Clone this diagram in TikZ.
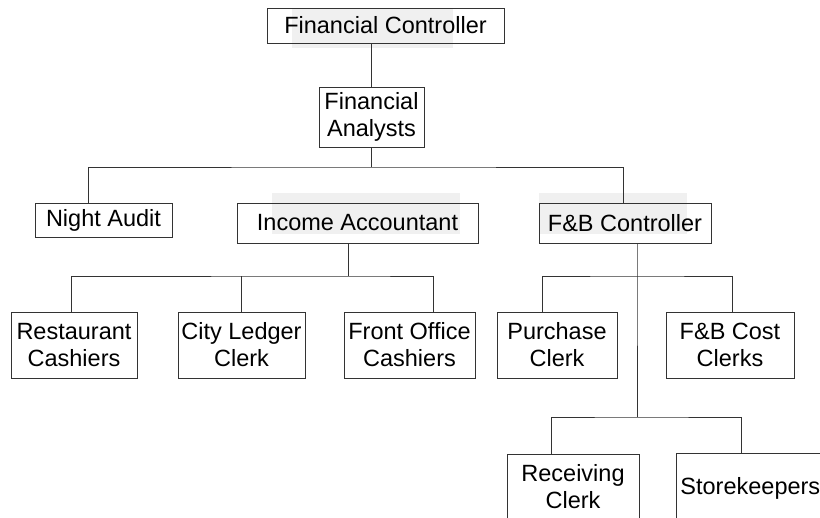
\documentclass[tikz,border=0pt]{standalone}
\usepackage{fontspec}
\setmainfont{Liberation Sans}
\usepackage{tikz}

\tikzset{
  post/.style={draw=black!80, line width=0.9pt, align=center, inner sep=0pt,
    font=\fontsize{23.5}{27}\selectfont},
  link/.style={draw=black!80, line width=0.9pt},
  mark box/.style={fill=black!6}
}

\begin{document}
\begin{tikzpicture}[x=1pt,y=-1pt]
\useasboundingbox (0,0) rectangle (820,518);
\clip (0,0) rectangle (820,518);

\fill[mark box] (292,8) rectangle (453,48);
\fill[mark box] (272,193) rectangle (460,234);
\fill[mark box] (539,193) rectangle (687,234);

\node[post, minimum width=237pt, minimum height=35pt] (fc) at (385.5,25.5) {Financial Controller};
\node[post, minimum width=105pt, minimum height=60pt] (fa) at (371.5,117) {Financial\\Analysts};
\node[post, minimum width=137pt, minimum height=34pt] (na) at (103.5,220) {Night Audit};
\node[post, minimum width=241pt, minimum height=40pt] (ia) at (357.5,223) {Income Accountant};
\node[post, minimum width=172pt, minimum height=40pt] (fb) at (625,223) {F\&B Controller};
\node[post, minimum width=126pt, minimum height=66pt] (rc) at (74,345) {Restaurant\\Cashiers};
\node[post, minimum width=127pt, minimum height=66pt] (cl) at (241.5,345) {City Ledger\\Clerk};
\node[post, minimum width=131pt, minimum height=66pt] (fo) at (409.5,345) {Front Office\\Cashiers};
\node[post, minimum width=120pt, minimum height=66pt] (pc) at (557,345) {Purchase\\Clerk};
\node[post, minimum width=128pt, minimum height=66pt] (cc) at (730,345) {F\&B Cost\\Clerks};
\node[post, minimum width=132pt, minimum height=65pt] (rv) at (573,486.5) {Receiving\\Clerk};
\node[post, anchor=north west, inner xsep=4pt, minimum height=70pt] (sk) at (676,453) {Storekeepers};

\coordinate (hub1) at (371.5,167);
\coordinate (hub2) at (348,276);
\coordinate (hub3) at (637,276);
\coordinate (hub4) at (637,417);

\draw[link] (fa.north) -- (fa.north |- fc.south);
\draw[link] (fa.south) -- (hub1);
\draw[link] ([xshift=-15.5pt]na.north) |- (hub1) -| ([xshift=-2pt]fb.north);

\draw[link] ([xshift=-9.5pt]ia.south) -- (hub2);
\draw[link] ([xshift=-3pt]rc.north) |- (hub2) -| ([xshift=23.5pt]fo.north);
\draw[link] (cl.north) -- (cl.north |- hub2);

\draw[link] ([xshift=12pt]fb.south) -- (hub3) -- (hub4);
\draw[link] ([xshift=-15pt]pc.north) |- (hub3) -| ([xshift=2pt]cc.north);
\draw[link] ([xshift=-22pt]rv.north) |- (hub4) -| ([xshift=65pt]sk.north west);
\end{tikzpicture}
\end{document}
